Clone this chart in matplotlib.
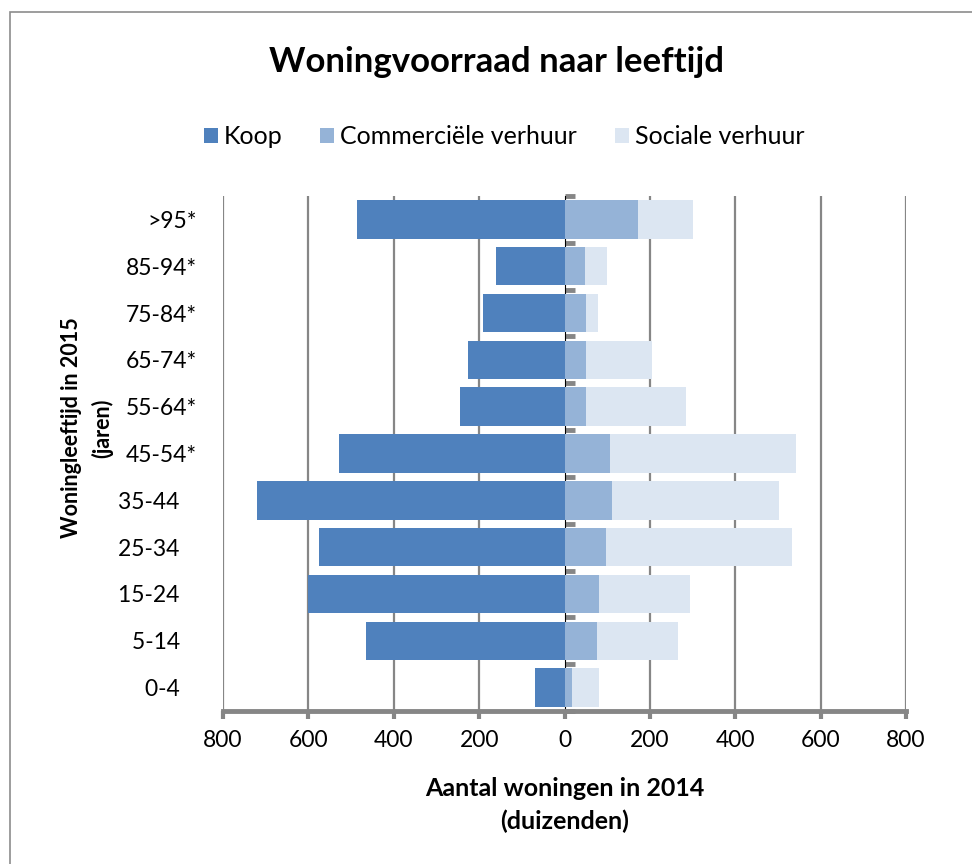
import matplotlib
matplotlib.use("Agg")
import matplotlib.pyplot as plt
from matplotlib.patches import Patch, Rectangle

# ---- data (duizenden woningen) ----
categories = ["0-4", "5-14", "15-24", "25-34", "35-44", "45-54*",
              "55-64*", "65-74*", "75-84*", "85-94*", ">95*"]
koop = [69, 466, 601, 574, 720, 529, 245, 226, 191, 160, 487]
commercieel = [18, 77, 81, 97, 111, 106, 51, 51, 50, 48, 173]
sociaal = [62, 188, 214, 436, 392, 436, 234, 153, 29, 52, 127]
xticks = [-800, -600, -400, -200, 0, 200, 400, 600, 800]
xticklabels = ["800", "600", "400", "200", "0", "200", "400", "600", "800"]

C_KOOP = "#4F81BD"
C_COMM = "#95B3D7"
C_SOC = "#DCE6F2"
GRID = "#868686"

plt.rcParams["font.family"] = ["Lato", "DejaVu Sans"]

W, H = 972, 864
fig = plt.figure(figsize=(W / 100, H / 100), dpi=100)

# outer chart border
fig.patches.append(Rectangle((10 / W, -0.1), 1.2, 1.1 - 12 / H, transform=fig.transFigure,
                             fill=False, edgecolor="#8c8c8c", linewidth=1.2))

ax = fig.add_axes([223 / W, 1 - 711 / H, 683 / W, 515 / H])
ypos = list(range(len(categories)))
h = 0.82
neg_koop = [-v for v in koop]
ax.barh(ypos, neg_koop, height=h, color=C_KOOP, zorder=3)
ax.barh(ypos, commercieel, height=h, color=C_COMM, zorder=3)
ax.barh(ypos, sociaal, left=commercieel, height=h, color=C_SOC, zorder=3)

ax.set_xlim(-800, 800)
ax.set_ylim(-0.5, len(categories) - 0.5)

# gridlines
for xv in xticks:
    if xv != 0:
        ax.axvline(xv, color=GRID, linewidth=1.6, zorder=1)

ax.set_xticks(xticks)
ax.set_xticklabels(xticklabels, fontsize=16.5)
ax.tick_params(axis="x", length=6, width=3, color=GRID, pad=8, direction="out")

labels = [c if c.endswith("*") else c + "   " for c in categories]
ax.set_yticks(ypos)
ax.set_yticklabels(labels, fontsize=16.5, ha="right")
ax.tick_params(axis="y", length=0, pad=18.5)

for s in ["top", "right", "left"]:
    ax.spines[s].set_visible(False)
ax.spines["bottom"].set_color(GRID)
ax.spines["bottom"].set_linewidth(3.5)
ax.spines["bottom"].set_zorder(4)

# vertical category axis at zero
sec = ax.secondary_yaxis(0.5)
sec.spines["left"].set_color(GRID)
sec.spines["left"].set_linewidth(3.5)
sec.set_yticks([i - 0.5 for i in range(len(categories) + 1)])
sec.set_yticklabels([])
sec.tick_params(axis="y", length=7, width=3.5, color=GRID, direction="out")

# title
fig.text(496 / W, 1 - 62 / H, "Woningvoorraad naar leeftijd", ha="center", va="center",
         fontsize=25, fontweight="bold")

# legend
handles = [Patch(facecolor=C_KOOP, label="Koop"),
           Patch(facecolor=C_COMM, label="Commerciële verhuur"),
           Patch(facecolor=C_SOC, label="Sociale verhuur")]
fig.legend(handles=handles, loc="center", bbox_to_anchor=(504 / W, 1 - 137 / H), ncol=3,
           frameon=False, fontsize=18, handlelength=0.56, handleheight=0.56,
           handletextpad=0.25, columnspacing=1.5)

# axis titles
fig.text(87 / W, 1 - 428 / H, "Woningleeftijd in 2015\n(jaren)", rotation=90,
         ha="center", va="center", multialignment="center", fontsize=15.5,
         fontweight="bold", linespacing=1.5)
fig.text(565 / W, 1 - 805 / H, "Aantal woningen in 2014\n(duizenden)",
         ha="center", va="center", multialignment="center", fontsize=18,
         fontweight="bold", linespacing=1.45)

fig.savefig("out.png", dpi=100)
